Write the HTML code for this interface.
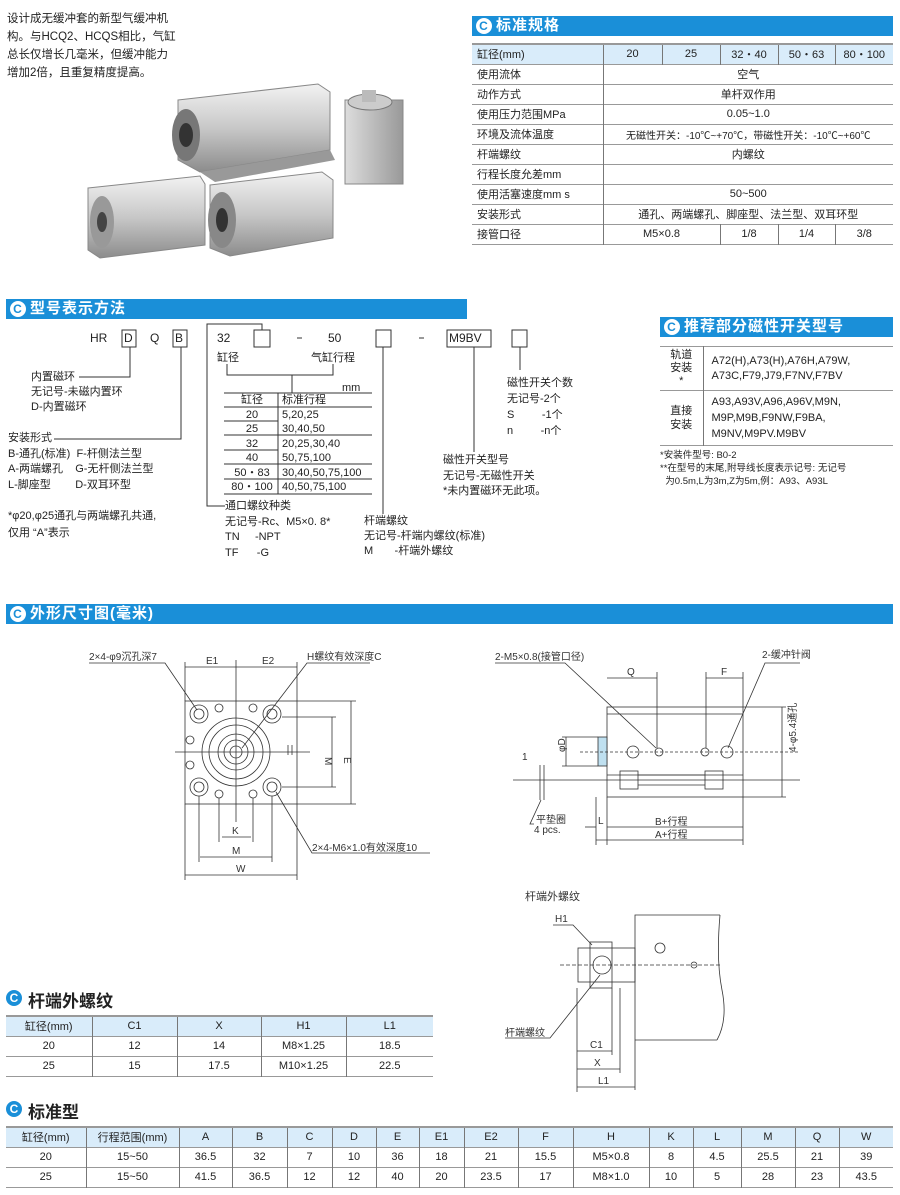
<!DOCTYPE html>
<html><head><meta charset="utf-8"><style>
*{margin:0;padding:0;box-sizing:border-box}
body{width:900px;height:1195px;background:#fff;position:relative;overflow:hidden;font-family:"Liberation Sans","Noto Sans CJK SC",sans-serif;color:#222}
.a{position:absolute;white-space:nowrap}
.hd{position:absolute;background:#1a8fd8;color:#fff;font-size:15px;font-weight:bold;height:20px;line-height:20px;padding-left:24px;letter-spacing:1px}
.ic{position:absolute;left:4px;top:2px;width:16px;height:16px;border-radius:50%;background:#fff;color:#1a8fd8;font-size:12px;line-height:16px;text-align:center;font-weight:bold}
.sh{position:absolute;font-size:17px;font-weight:bold;color:#222;padding-left:22px}
.sh .ic{background:#1a8fd8;color:#fff;left:0;top:3px}
table{position:absolute;border-collapse:collapse;font-size:11px}
td{text-align:center;border-left:1px solid #777;padding:0;height:20px}
td:first-child{border-left:none}
tr{border-bottom:1.5px solid #999}
tr.h{background:#d9ecfa;border-top:2px solid #999}
.t1 td{text-align:center}
.l td:first-child{text-align:left;padding-left:5px}
.f{font-size:11px;line-height:16px}
</style></head><body>

<div class="a" style="left:7px;top:10px;font-size:11.5px;line-height:18px">设计成无缓冲套的新型气缓冲机<br>构。与HCQ2、HCQS相比，气缸<br>总长仅增长几毫米，但缓冲能力<br>增加2倍，且重复精度提高。</div>

<svg class="a" style="left:80px;top:80px" width="340" height="185" viewBox="80 80 340 185">
<defs><linearGradient id="g" x1="0" y1="0" x2="0" y2="1"><stop offset="0" stop-color="#f2f2f2"/><stop offset=".5" stop-color="#c8c8c8"/><stop offset="1" stop-color="#8c8c8c"/></linearGradient>
<linearGradient id="g2" x1="0" y1="0" x2="1" y2="0"><stop offset="0" stop-color="#ddd"/><stop offset="1" stop-color="#999"/></linearGradient></defs>
<polygon points="178,100 318,84 330,92 330,150 200,172 178,160" fill="url(#g)" stroke="#888"/>
<ellipse cx="186" cy="135" rx="14" ry="26" fill="#777"/><ellipse cx="186" cy="135" rx="7" ry="12" fill="#333"/>
<polygon points="200,172 330,150 335,160 215,182" fill="#999"/>
<rect x="345" y="100" width="58" height="84" fill="url(#g2)" stroke="#888"/><ellipse cx="370" cy="102" rx="22" ry="8" fill="#ccc" stroke="#777"/><rect x="362" y="90" width="14" height="12" fill="#bbb"/>
<polygon points="88,188 200,176 205,184 205,245 100,258 88,250" fill="url(#g)" stroke="#888"/><ellipse cx="102" cy="222" rx="12" ry="26" fill="#999"/><ellipse cx="102" cy="222" rx="5" ry="10" fill="#444"/>
<polygon points="210,185 322,172 333,180 333,238 230,256 210,248" fill="url(#g)" stroke="#888"/><ellipse cx="222" cy="220" rx="14" ry="28" fill="#888"/><ellipse cx="222" cy="220" rx="6" ry="12" fill="#333"/>
</svg>

<div class="hd" style="left:472px;top:16px;width:421px"><span class="ic">C</span>标准规格</div>
<table class="l" style="left:472px;top:43px;width:421px">
<col style="width:131px"><col style="width:59px"><col style="width:58px"><col style="width:58px"><col style="width:57px"><col style="width:58px">
<tr class="h"><td>缸径(mm)</td><td>20</td><td>25</td><td>32・40</td><td>50・63</td><td>80・100</td></tr>
<tr><td>使用流体</td><td colspan="5">空气</td></tr>
<tr><td>动作方式</td><td colspan="5">单杆双作用</td></tr>
<tr><td>使用压力范围MPa</td><td colspan="5">0.05~1.0</td></tr>
<tr><td>环境及流体温度</td><td colspan="5" style="font-size:10px">无磁性开关：-10℃~+70℃，带磁性开关：-10℃~+60℃</td></tr>
<tr><td>杆端螺纹</td><td colspan="5">内螺纹</td></tr>
<tr><td>行程长度允差mm</td><td colspan="5"></td></tr>
<tr><td>使用活塞速度mm s</td><td colspan="5">50~500</td></tr>
<tr><td>安装形式</td><td colspan="5">通孔、两端螺孔、脚座型、法兰型、双耳环型</td></tr>
<tr><td>接管口径</td><td colspan="2">M5×0.8</td><td>1/8</td><td>1/4</td><td>3/8</td></tr>
</table>

<div class="hd" style="left:6px;top:299px;width:461px"><span class="ic">C</span>型号表示方法</div>
<div class="hd" style="left:660px;top:317px;width:233px"><span class="ic">C</span>推荐部分磁性开关型号</div>

<svg class="a" style="left:0;top:0" width="900" height="600" fill="none" stroke="#333" stroke-width="1">
<rect x="122" y="330" width="14" height="17"/><rect x="173" y="330" width="14" height="17"/><rect x="254" y="330" width="16" height="17"/><rect x="376" y="330" width="15" height="17"/><rect x="447" y="330" width="44" height="17"/><rect x="512" y="330" width="15" height="17"/>
<polyline points="130,347 130,377 79,377"/><polyline points="181,347 181,439 54,439"/>
<polyline points="262,330 262,324 207,324 207,506 225,506"/>
<polyline points="227,364 227,375 333,375 333,364"/><line x1="292" y1="375" x2="292" y2="393"/>
<line x1="224" y1="393" x2="372" y2="393"/><line x1="224" y1="407" x2="372" y2="407"/><line x1="278" y1="393" x2="278" y2="494"/>
<line x1="224" y1="421" x2="278" y2="421"/><line x1="224" y1="435" x2="372" y2="435"/><line x1="224" y1="450" x2="278" y2="450"/><line x1="224" y1="464" x2="372" y2="464"/><line x1="224" y1="479" x2="372" y2="479"/><line x1="224" y1="494" x2="372" y2="494"/>
<line x1="383" y1="347" x2="383" y2="514"/><line x1="474" y1="347" x2="474" y2="452"/><line x1="520" y1="347" x2="520" y2="370"/>
<line x1="297" y1="338" x2="302" y2="338"/><line x1="419" y1="338" x2="424" y2="338"/>
</svg>
<div class="a" style="left:90px;top:331px;font-size:12px">HR</div>
<div class="a" style="left:124px;top:331px;font-size:12px">D</div>
<div class="a" style="left:150px;top:331px;font-size:12px">Q</div>
<div class="a" style="left:175px;top:331px;font-size:12px">B</div>
<div class="a" style="left:217px;top:331px;font-size:12px">32</div>
<div class="a" style="left:328px;top:331px;font-size:12px">50</div>
<div class="a" style="left:449px;top:331px;font-size:12px">M9BV</div>
<div class="a f" style="left:217px;top:350px">缸径</div><div class="a f" style="left:311px;top:350px">气缸行程</div>
<div class="a f" style="left:342px;top:380px">mm</div>
<div class="a f" style="left:228px;top:393px;line-height:14.5px;text-align:center;width:48px">缸径<br>20<br>25<br>32<br>40<br>50・83<br>80・100</div>
<div class="a f" style="left:282px;top:393px;line-height:14.5px">标准行程<br>5,20,25<br>30,40,50<br>20,25,30,40<br>50,75,100<br>30,40,50,75,100<br>40,50,75,100</div>
<div class="a f" style="left:31px;top:370px;line-height:15px">内置磁环<br>无记号-未磁内置环<br>D-内置磁环</div>
<div class="a f" style="left:8px;top:431px;line-height:15.5px">安装形式<br>B-通孔(标准)&nbsp; F-杆侧法兰型<br>A-两端螺孔&nbsp;&nbsp;&nbsp; G-无杆侧法兰型<br>L-脚座型&nbsp;&nbsp;&nbsp;&nbsp;&nbsp;&nbsp;&nbsp; D-双耳环型</div>
<div class="a f" style="left:8px;top:508px;line-height:17px">*φ20,φ25通孔与两端螺孔共通,<br>仅用 “A”表示</div>
<div class="a f" style="left:225px;top:499px;line-height:15.5px">通口螺纹种类<br>无记号-Rc、M5×0. 8*<br>TN&nbsp;&nbsp;&nbsp;&nbsp; -NPT<br>TF&nbsp;&nbsp;&nbsp;&nbsp;&nbsp; -G</div>
<div class="a f" style="left:364px;top:514px;line-height:15px">杆端螺纹<br>无记号-杆端内螺纹(标准)<br>M&nbsp;&nbsp;&nbsp;&nbsp;&nbsp;&nbsp; -杆端外螺纹</div>
<div class="a f" style="left:443px;top:453px;line-height:15.5px">磁性开关型号<br>无记号-无磁性开关<br>*未内置磁环无此项。</div>
<div class="a f" style="left:507px;top:375px;line-height:16px">磁性开关个数<br>无记号-2个<br>S&nbsp;&nbsp;&nbsp;&nbsp;&nbsp;&nbsp;&nbsp;&nbsp; -1个<br>n&nbsp;&nbsp;&nbsp;&nbsp;&nbsp;&nbsp;&nbsp;&nbsp; -n个</div>

<table style="left:660px;top:346px;width:233px;font-size:11px">
<col style="width:43px"><col>
<tr style="border-top:1.5px solid #999"><td style="height:44px;line-height:13px">轨道<br>安装<br>*</td><td style="text-align:left;padding-left:8px;line-height:15px">A72(H),A73(H),A76H,A79W,<br>A73C,F79,J79,F7NV,F7BV</td></tr>
<tr><td style="height:55px;line-height:14px">直接<br>安装</td><td style="text-align:left;padding-left:8px;line-height:16px">A93,A93V,A96,A96V,M9N,<br>M9P,M9B,F9NW,F9BA,<br>M9NV,M9PV.M9BV</td></tr>
</table>
<div class="a" style="left:660px;top:449px;font-size:9.5px;line-height:13px">*安装件型号: B0-2<br>**在型号的末尾,附导线长度表示记号: 无记号<br>&nbsp; 为0.5m,L为3m,Z为5m,例：A93、A93L</div>

<div class="hd" style="left:6px;top:604px;width:887px"><span class="ic">C</span>外形尺寸图(毫米)</div>

<svg class="a" style="left:0;top:640px" width="900" height="460" viewBox="0 640 900 460" fill="none" stroke="#333" stroke-width="0.8" font-family="Liberation Sans, Noto Sans CJK SC, sans-serif" font-size="10">
<g>
<rect x="185" y="701" width="112" height="103"/>
<line x1="175" y1="752" x2="310" y2="752"/><line x1="236" y1="660" x2="236" y2="822"/>
<circle cx="236" cy="752" r="34"/><circle cx="236" cy="752" r="27"/><circle cx="236" cy="752" r="18"/><circle cx="236" cy="752" r="12"/><circle cx="236" cy="752" r="6"/>
<circle cx="199" cy="714" r="9"/><circle cx="199" cy="714" r="5"/><circle cx="272" cy="714" r="9"/><circle cx="272" cy="714" r="5"/>
<circle cx="199" cy="787" r="9"/><circle cx="199" cy="787" r="5"/><circle cx="272" cy="787" r="9"/><circle cx="272" cy="787" r="5"/>
<circle cx="219" cy="708" r="4"/><circle cx="253" cy="708" r="4"/><circle cx="219" cy="794" r="4"/><circle cx="253" cy="794" r="4"/>
<circle cx="190" cy="740" r="4"/><circle cx="190" cy="765" r="4"/>
<line x1="288" y1="745" x2="288" y2="755"/><line x1="292" y1="745" x2="292" y2="755"/>
<line x1="185" y1="667" x2="297" y2="667"/><line x1="185" y1="662" x2="185" y2="701"/><line x1="297" y1="662" x2="297" y2="701"/>
<line x1="297" y1="701" x2="356" y2="701"/><line x1="297" y1="804" x2="356" y2="804"/><line x1="351" y1="701" x2="351" y2="804"/>
<line x1="282" y1="717" x2="336" y2="717"/><line x1="282" y1="787" x2="336" y2="787"/><line x1="332" y1="717" x2="332" y2="787"/>
<line x1="219" y1="798" x2="219" y2="842"/><line x1="253" y1="798" x2="253" y2="842"/><line x1="222" y1="837" x2="251" y2="837"/>
<line x1="199" y1="796" x2="199" y2="862"/><line x1="272" y1="796" x2="272" y2="862"/><line x1="200" y1="857" x2="272" y2="857"/>
<line x1="185" y1="804" x2="185" y2="880"/><line x1="297" y1="804" x2="297" y2="880"/><line x1="185" y1="875" x2="297" y2="875"/>
<polyline points="89,663 165,663 197,710"/><polyline points="370,663 307,663 242,748"/><polyline points="430,853 312,853 276,792"/>
</g>
<g fill="#333" stroke="none">
<text x="89" y="660">2×4-φ9沉孔深7</text><text x="307" y="660">H螺纹有效深度C</text><text x="312" y="851">2×4-M6×1.0有效深度10</text>
<text x="206" y="664">E1</text><text x="262" y="664">E2</text><text x="344" y="757" transform="rotate(90 344 757)">E</text><text x="325" y="757" transform="rotate(90 325 757)">M</text>
<text x="232" y="834">K</text><text x="232" y="854">M</text><text x="236" y="872">W</text>
</g>
<g>
<rect x="607" y="707" width="136" height="90"/><line x1="607" y1="714" x2="743" y2="714"/><line x1="607" y1="775" x2="743" y2="775"/>
<rect x="598" y="737" width="9" height="29" fill="#bfe0f0"/>
<line x1="513" y1="780" x2="800" y2="780"/><rect x="620" y="771" width="18" height="18"/><rect x="705" y="771" width="18" height="18"/><line x1="638" y1="775" x2="705" y2="775"/><line x1="638" y1="785" x2="705" y2="785"/>
<line x1="580" y1="752" x2="800" y2="752" stroke-dasharray="3,2"/>
<circle cx="633" cy="752" r="6"/><circle cx="659" cy="752" r="4"/><circle cx="705" cy="752" r="4"/><circle cx="727" cy="752" r="6"/>
<line x1="607" y1="678" x2="657" y2="678"/><line x1="657" y1="672" x2="657" y2="748"/><line x1="706" y1="678" x2="743" y2="678"/><line x1="706" y1="672" x2="706" y2="748"/><line x1="743" y1="672" x2="743" y2="707"/>
<line x1="562" y1="737" x2="598" y2="737"/><line x1="562" y1="766" x2="598" y2="766"/><line x1="566" y1="737" x2="566" y2="766"/>
<line x1="540" y1="765" x2="540" y2="800"/><line x1="544" y1="765" x2="544" y2="800"/>
<line x1="607" y1="797" x2="607" y2="845"/><line x1="596" y1="797" x2="596" y2="845"/><line x1="743" y1="797" x2="743" y2="845"/>
<line x1="607" y1="827" x2="743" y2="827"/><line x1="596" y1="840" x2="743" y2="840"/><line x1="585" y1="827" x2="596" y2="827"/>
<line x1="743" y1="707" x2="786" y2="707"/><line x1="743" y1="797" x2="786" y2="797"/><line x1="782" y1="707" x2="782" y2="797"/>
<polyline points="495,663 565,663 656,748"/><polyline points="800,663 765,663 728,748"/><polyline points="534,824 530,824 541,800"/>
</g>
<g fill="#333" stroke="none">
<text x="495" y="660">2-M5×0.8(接管口径)</text><text x="762" y="658">2-缓冲针阀</text><text x="627" y="675">Q</text><text x="721" y="675">F</text>
<text x="562" y="755" transform="rotate(-90 562 752)">φD</text><text x="522" y="760">1</text>
<text x="536" y="823">平垫圈</text><text x="534" y="833">4 pcs.</text><text x="598" y="824">L</text>
<text x="655" y="825">B+行程</text><text x="655" y="838">A+行程</text>
<text x="778" y="770" transform="rotate(-90 778 752)">4-φ5.4通孔</text>
</g>
<g>
<polyline points="720,915 635,915 635,1090"/><path d="M720,915 Q716,960 722,990 Q728,1020 717,1040"/><line x1="635" y1="1040" x2="717" y2="1040"/>
<rect x="578" y="948" width="57" height="34"/><rect x="590" y="942" width="22" height="46"/>
<circle cx="602" cy="965" r="9"/><circle cx="660" cy="948" r="5"/><circle cx="694" cy="965" r="3"/>
<line x1="560" y1="965" x2="720" y2="965" stroke-dasharray="4,2"/>
<line x1="577" y1="988" x2="577" y2="1092"/><line x1="612" y1="988" x2="612" y2="1055"/><line x1="620" y1="988" x2="620" y2="1073"/>
<line x1="577" y1="1051" x2="612" y2="1051"/><line x1="577" y1="1069" x2="620" y2="1069"/><line x1="577" y1="1087" x2="635" y2="1087"/>
<polyline points="553,925 573,925 592,945"/><polyline points="505,1038 550,1038 600,975"/>
</g>
<g fill="#333" stroke="none">
<text x="525" y="900" font-size="11">杆端外螺纹</text><text x="555" y="922">H1</text><text x="505" y="1036">杆端螺纹</text>
<text x="590" y="1048">C1</text><text x="594" y="1066">X</text><text x="598" y="1084">L1</text>
</g>
</svg>

<div class="sh" style="left:6px;top:987px"><span class="ic">C</span>杆端外螺纹</div>
<table class="t1" style="left:6px;top:1015px;width:427px">
<col style="width:86px"><col style="width:85px"><col style="width:84px"><col style="width:85px"><col>
<tr class="h"><td>缸径(mm)</td><td>C1</td><td>X</td><td>H1</td><td>L1</td></tr>
<tr><td>20</td><td>12</td><td>14</td><td>M8×1.25</td><td>18.5</td></tr>
<tr><td>25</td><td>15</td><td>17.5</td><td>M10×1.25</td><td>22.5</td></tr>
</table>

<div class="sh" style="left:6px;top:1098px"><span class="ic">C</span>标准型</div>
<table class="t1" style="left:6px;top:1126px;width:887px">
<col style="width:80px"><col style="width:93px"><col style="width:53px"><col style="width:55px"><col style="width:45px"><col style="width:44px"><col style="width:43px"><col style="width:45px"><col style="width:54px"><col style="width:55px"><col style="width:76px"><col style="width:44px"><col style="width:48px"><col style="width:54px"><col style="width:44px"><col>
<tr class="h"><td>缸径(mm)</td><td>行程范围(mm)</td><td>A</td><td>B</td><td>C</td><td>D</td><td>E</td><td>E1</td><td>E2</td><td>F</td><td>H</td><td>K</td><td>L</td><td>M</td><td>Q</td><td>W</td></tr>
<tr><td>20</td><td>15~50</td><td>36.5</td><td>32</td><td>7</td><td>10</td><td>36</td><td>18</td><td>21</td><td>15.5</td><td>M5×0.8</td><td>8</td><td>4.5</td><td>25.5</td><td>21</td><td>39</td></tr>
<tr><td>25</td><td>15~50</td><td>41.5</td><td>36.5</td><td>12</td><td>12</td><td>40</td><td>20</td><td>23.5</td><td>17</td><td>M8×1.0</td><td>10</td><td>5</td><td>28</td><td>23</td><td>43.5</td></tr>
</table>
</body></html>
